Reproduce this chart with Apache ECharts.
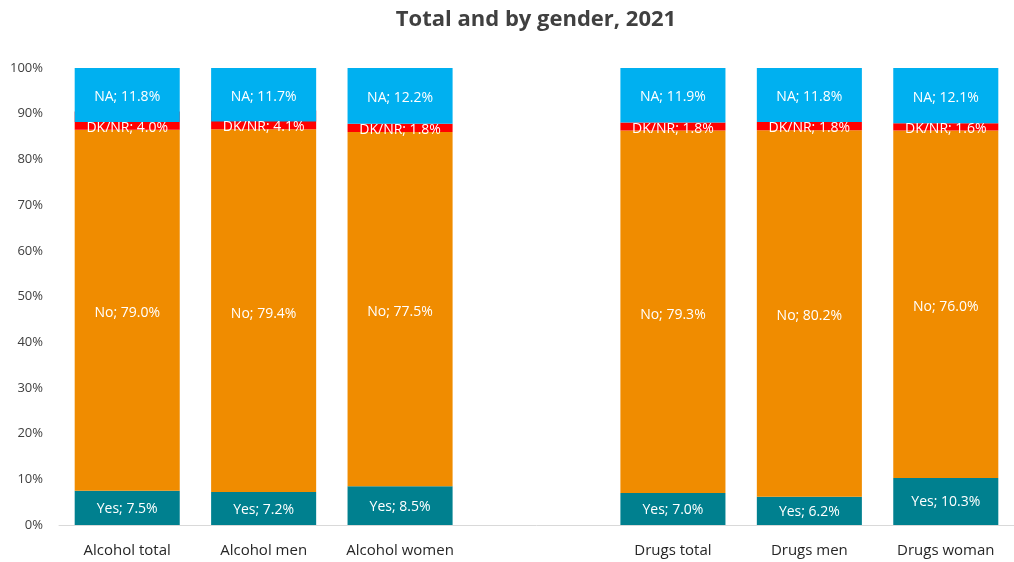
<!DOCTYPE html>
<html>
<head>
<meta charset="utf-8">
<script src="https://cdn.jsdelivr.net/npm/echarts@6/dist/echarts.min.js"></script>
<style>
  html, body { margin: 0; padding: 0; background: #ffffff; }
  #chart { width: 1014px; height: 562px; }
</style>
</head>
<body>
<div id="chart"></div>
<script>
// Categories (the empty one separates the alcohol and drug groups)
const categories = ['Alcohol total', 'Alcohol men', 'Alcohol women', '', 'Drugs total', 'Drugs men', 'Drugs woman'];

// Shares in percent
const yesValues  = [7.5, 7.2, 8.5, null, 7.0, 6.2, 10.3];
const noValues   = [79.0, 79.4, 77.5, null, 79.3, 80.2, 76.0];
const dknrValues = [4.0, 4.1, 1.8, null, 1.8, 1.8, 1.6];
const naValues   = [11.8, 11.7, 12.2, null, 11.9, 11.8, 12.1];

const yTicks = { min: 0, max: 100, interval: 10 };

const FONT = '"Open Sans", "Noto Sans", sans-serif';

const fmt = p => p.seriesName + '; ' + Number(p.value).toFixed(1) + '%';

const labelBase = {
  show: true,
  color: '#ffffff',
  fontFamily: FONT,
  fontSize: 14,
  formatter: fmt
};

const chart = echarts.init(document.getElementById('chart'), null, { renderer: 'canvas' });

chart.setOption({
  animation: false,
  title: {
    text: 'Total and by gender, 2021',
    left: 531,
    top: 4,
    textAlign: 'center',
    textStyle: { fontFamily: FONT, fontSize: 22, fontWeight: 'bold', color: '#404040' }
  },
  grid: { left: 59, right: -2, top: 68, bottom: 37, containLabel: false },
  xAxis: {
    type: 'category',
    data: categories,
    axisLine: { show: true, lineStyle: { color: '#d9d9d9', width: 1 } },
    axisTick: { show: false },
    axisLabel: { color: '#262626', fontFamily: FONT, fontSize: 15, margin: 18, interval: 0 }
  },
  yAxis: [
    {
      type: 'value',
      min: yTicks.min, max: yTicks.max, interval: yTicks.interval,
      axisLine: { show: false },
      axisTick: { show: false },
      splitLine: { show: false },
      axisLabel: { formatter: '{value}%', color: '#404040', fontFamily: FONT, fontSize: 13, margin: 16 }
    },
    {
      // NA segments hang from the 100% line downwards
      type: 'value',
      inverse: true,
      min: yTicks.min, max: yTicks.max,
      show: false
    }
  ],
  series: [
    {
      name: 'Yes', type: 'bar', stack: 'share', data: yesValues,
      barCategoryGap: '23%', barGap: '-100%',
      itemStyle: { color: '#00808F' },
      label: Object.assign({}, labelBase, { position: 'inside', offset: [0, 1] })
    },
    {
      name: 'No', type: 'bar', stack: 'share', data: noValues,
      barCategoryGap: '23%', barGap: '-100%',
      itemStyle: { color: '#F08C00' },
      label: Object.assign({}, labelBase, { position: 'inside', offset: [0, 3] })
    },
    {
      name: 'DK/NR', type: 'bar', stack: 'share', data: dknrValues,
      barCategoryGap: '23%', barGap: '-100%',
      itemStyle: { color: '#FF0000' },
      label: Object.assign({}, labelBase, {
        position: ['50%', '100%'], align: 'center', verticalAlign: 'middle', offset: [0, -2]
      })
    },
    {
      name: 'NA', type: 'bar', yAxisIndex: 1, data: naValues,
      barCategoryGap: '23%', barGap: '-100%',
      itemStyle: { color: '#00B0F0' },
      label: Object.assign({}, labelBase, { position: 'inside', offset: [0, 2] })
    }
  ]
});
</script>
</body>
</html>
